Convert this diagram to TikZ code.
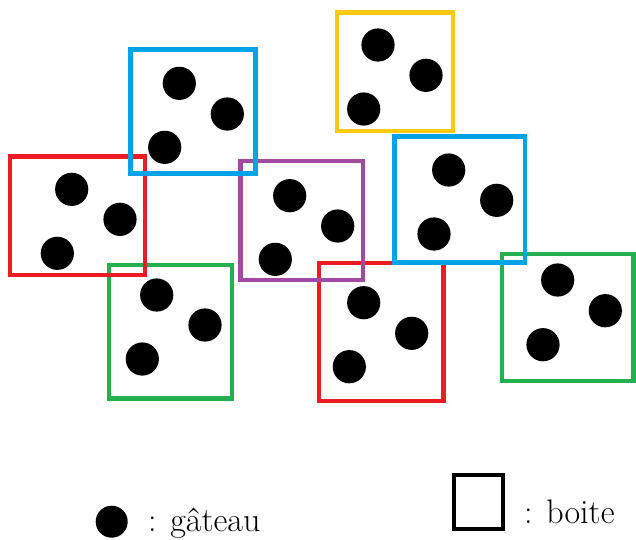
\documentclass[tikz,border=0pt]{standalone}
\usepackage{tikz}

\definecolor{bleu}{RGB}{0,162,232}
\definecolor{rouge}{RGB}{237,28,36}
\definecolor{jaune}{RGB}{255,201,14}
\definecolor{vert}{RGB}{34,177,76}
\definecolor{violet}{RGB}{163,73,164}

\tikzset{
  boite/.style={line width=4.8pt},
  gateau/.style={fill=black},
  legende/.style={inner sep=0pt, anchor=base west, font=\fontsize{34}{40}\selectfont}
}

\begin{document}
\begin{tikzpicture}[x=1pt, y=-1pt]
	\useasboundingbox (0,0) rectangle (636,539);

	% boites vertes
	\draw[boite, vert] (109,265) rectangle (232,398.7);
	\fill[gateau] (156.7,295) circle (16.6) (205,325) circle (16.6) (142.3,359) circle (16.6);
	\draw[boite, vert] (502,254) rectangle (633.5,381);
	\fill[gateau] (557.7,280) circle (16.6) (605.3,310.7) circle (16.6) (543,344.7) circle (16.6);

	% boites rouges
	\draw[boite, rouge] (10,156.5) rectangle (145,275);
	\fill[gateau] (71.7,189.3) circle (16.6) (120,219.3) circle (16.6) (57.3,253.3) circle (16.6);
	\draw[boite, rouge] (319,263) rectangle (443.5,401);
	\fill[gateau] (363.7,302.7) circle (16.6) (411.7,333.3) circle (16.6) (349.3,366.7) circle (16.6);

	% boite violette
	\draw[boite, violet, line width=4.2pt] (240.5,161) rectangle (363,280);
	\fill[gateau] (289.7,195.7) circle (16.6) (337.7,226) circle (16.6) (275.3,259.3) circle (16.6);

	% boite jaune
	\draw[boite, jaune] (337,12.5) rectangle (453,131);
	\fill[gateau] (378,45) circle (16.6) (426,75.3) circle (16.6) (363.7,109) circle (16.6);

	% boites bleues
	\draw[boite, bleu] (130.5,49.5) rectangle (255.5,173.5);
	\fill[gateau] (179.3,83.3) circle (16.6) (227.3,114) circle (16.6) (164.7,147.3) circle (16.6);
	\draw[boite, bleu] (394.5,136.5) rectangle (525,262.5);
	\fill[gateau] (448.7,170) circle (16.6) (496.7,200.3) circle (16.6) (434,234) circle (16.6);

	% legende
	\fill[gateau] (111.7,521.7) circle (16);
	\node[legende] (gateau) at (148,531) {: gâteau};
	\draw[line width=4pt] (453.7,475.3) rectangle (503,529);
	\node[legende] (boite) at (524,523) {: boite};

\end{tikzpicture}
\end{document}
